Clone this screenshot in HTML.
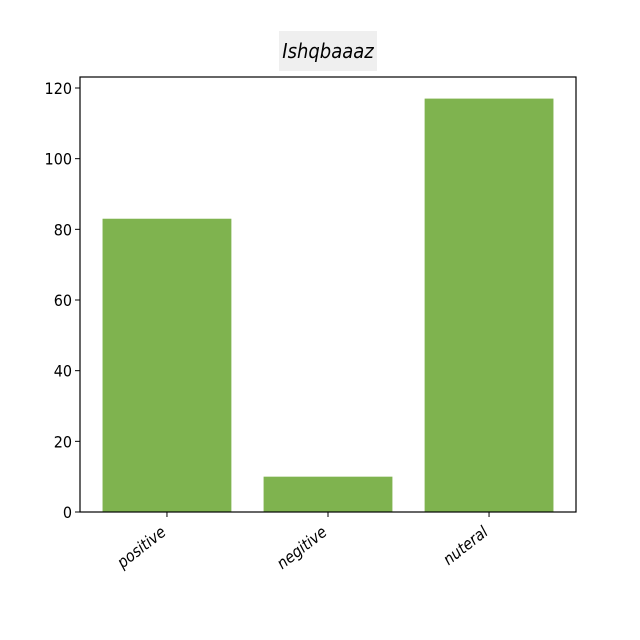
<!DOCTYPE html>
<html><head><meta charset="utf-8"><style>
body{margin:0;background:#fff;}
svg{display:block;font-family:"Liberation Sans Narrow","DejaVu Sans Condensed","Liberation Sans",sans-serif;}
</style></head><body>
<svg id="chart" width="640" height="640" viewBox="0 0 640 640">
<rect x="279" y="31" width="98" height="40" fill="#efefef"/>
<text x="328" y="58" text-anchor="middle" font-size="20" font-style="italic" fill="#000">Ishqbaaaz</text>
<g id="bars"></g>
<g id="axes"></g>
</svg>
<script>
const categories = ["positive", "negitive", "nuteral"];
const values = [83, 10, 117];
const yTicks = [0, 20, 40, 60, 80, 100, 120];

const L = 80, R = 576, T = 77, B = 512;
const xMin = -0.54, xMax = 2.54;
const xs = v => L + (v - xMin) / (xMax - xMin) * (R - L);
const ys = v => B - v / 120 * (B - 88);
const NS = "http://www.w3.org/2000/svg";
const bars = document.getElementById('bars');
const axes = document.getElementById('axes');
function mk(tag, attrs, parent) {
  const e = document.createElementNS(NS, tag);
  for (const k in attrs) e.setAttribute(k, attrs[k]);
  parent.appendChild(e);
  return e;
}
categories.forEach((c, i) => {
  const x0 = xs(i - 0.4), x1 = xs(i + 0.4);
  const r = mk('rect', {x: x0, y: ys(values[i]), width: x1 - x0, height: B - ys(values[i]), fill: '#7fb34f'}, bars);
  
  
  const t = mk('line', {x1: xs(i), x2: xs(i), y1: B, y2: B + 5, stroke: '#000', 'stroke-width': 1}, axes);
  
  
  const lx = xs(i), ly = B + 22;
  const lb = mk('text', {x: lx, y: ly, 'text-anchor': 'end', 'font-size': 16, 'font-style': 'italic', transform: `rotate(-38 ${lx} ${ly})`}, axes);
  lb.textContent = c;
  
  
});
yTicks.forEach(v => {
  const y = ys(v);
  const t = mk('line', {x1: L - 5, x2: L, y1: y, y2: y, stroke: '#000', 'stroke-width': 1}, axes);
  
  
  const lb = mk('text', {x: L - 8, y: y + 6, 'text-anchor': 'end', 'font-size': 16}, axes);
  lb.textContent = v;
  
  
});
const frame = mk('rect', {x: L, y: T, width: R - L, height: B - T, fill: 'none', stroke: '#000', 'stroke-width': 1.2}, axes);


</script>
</body></html>
